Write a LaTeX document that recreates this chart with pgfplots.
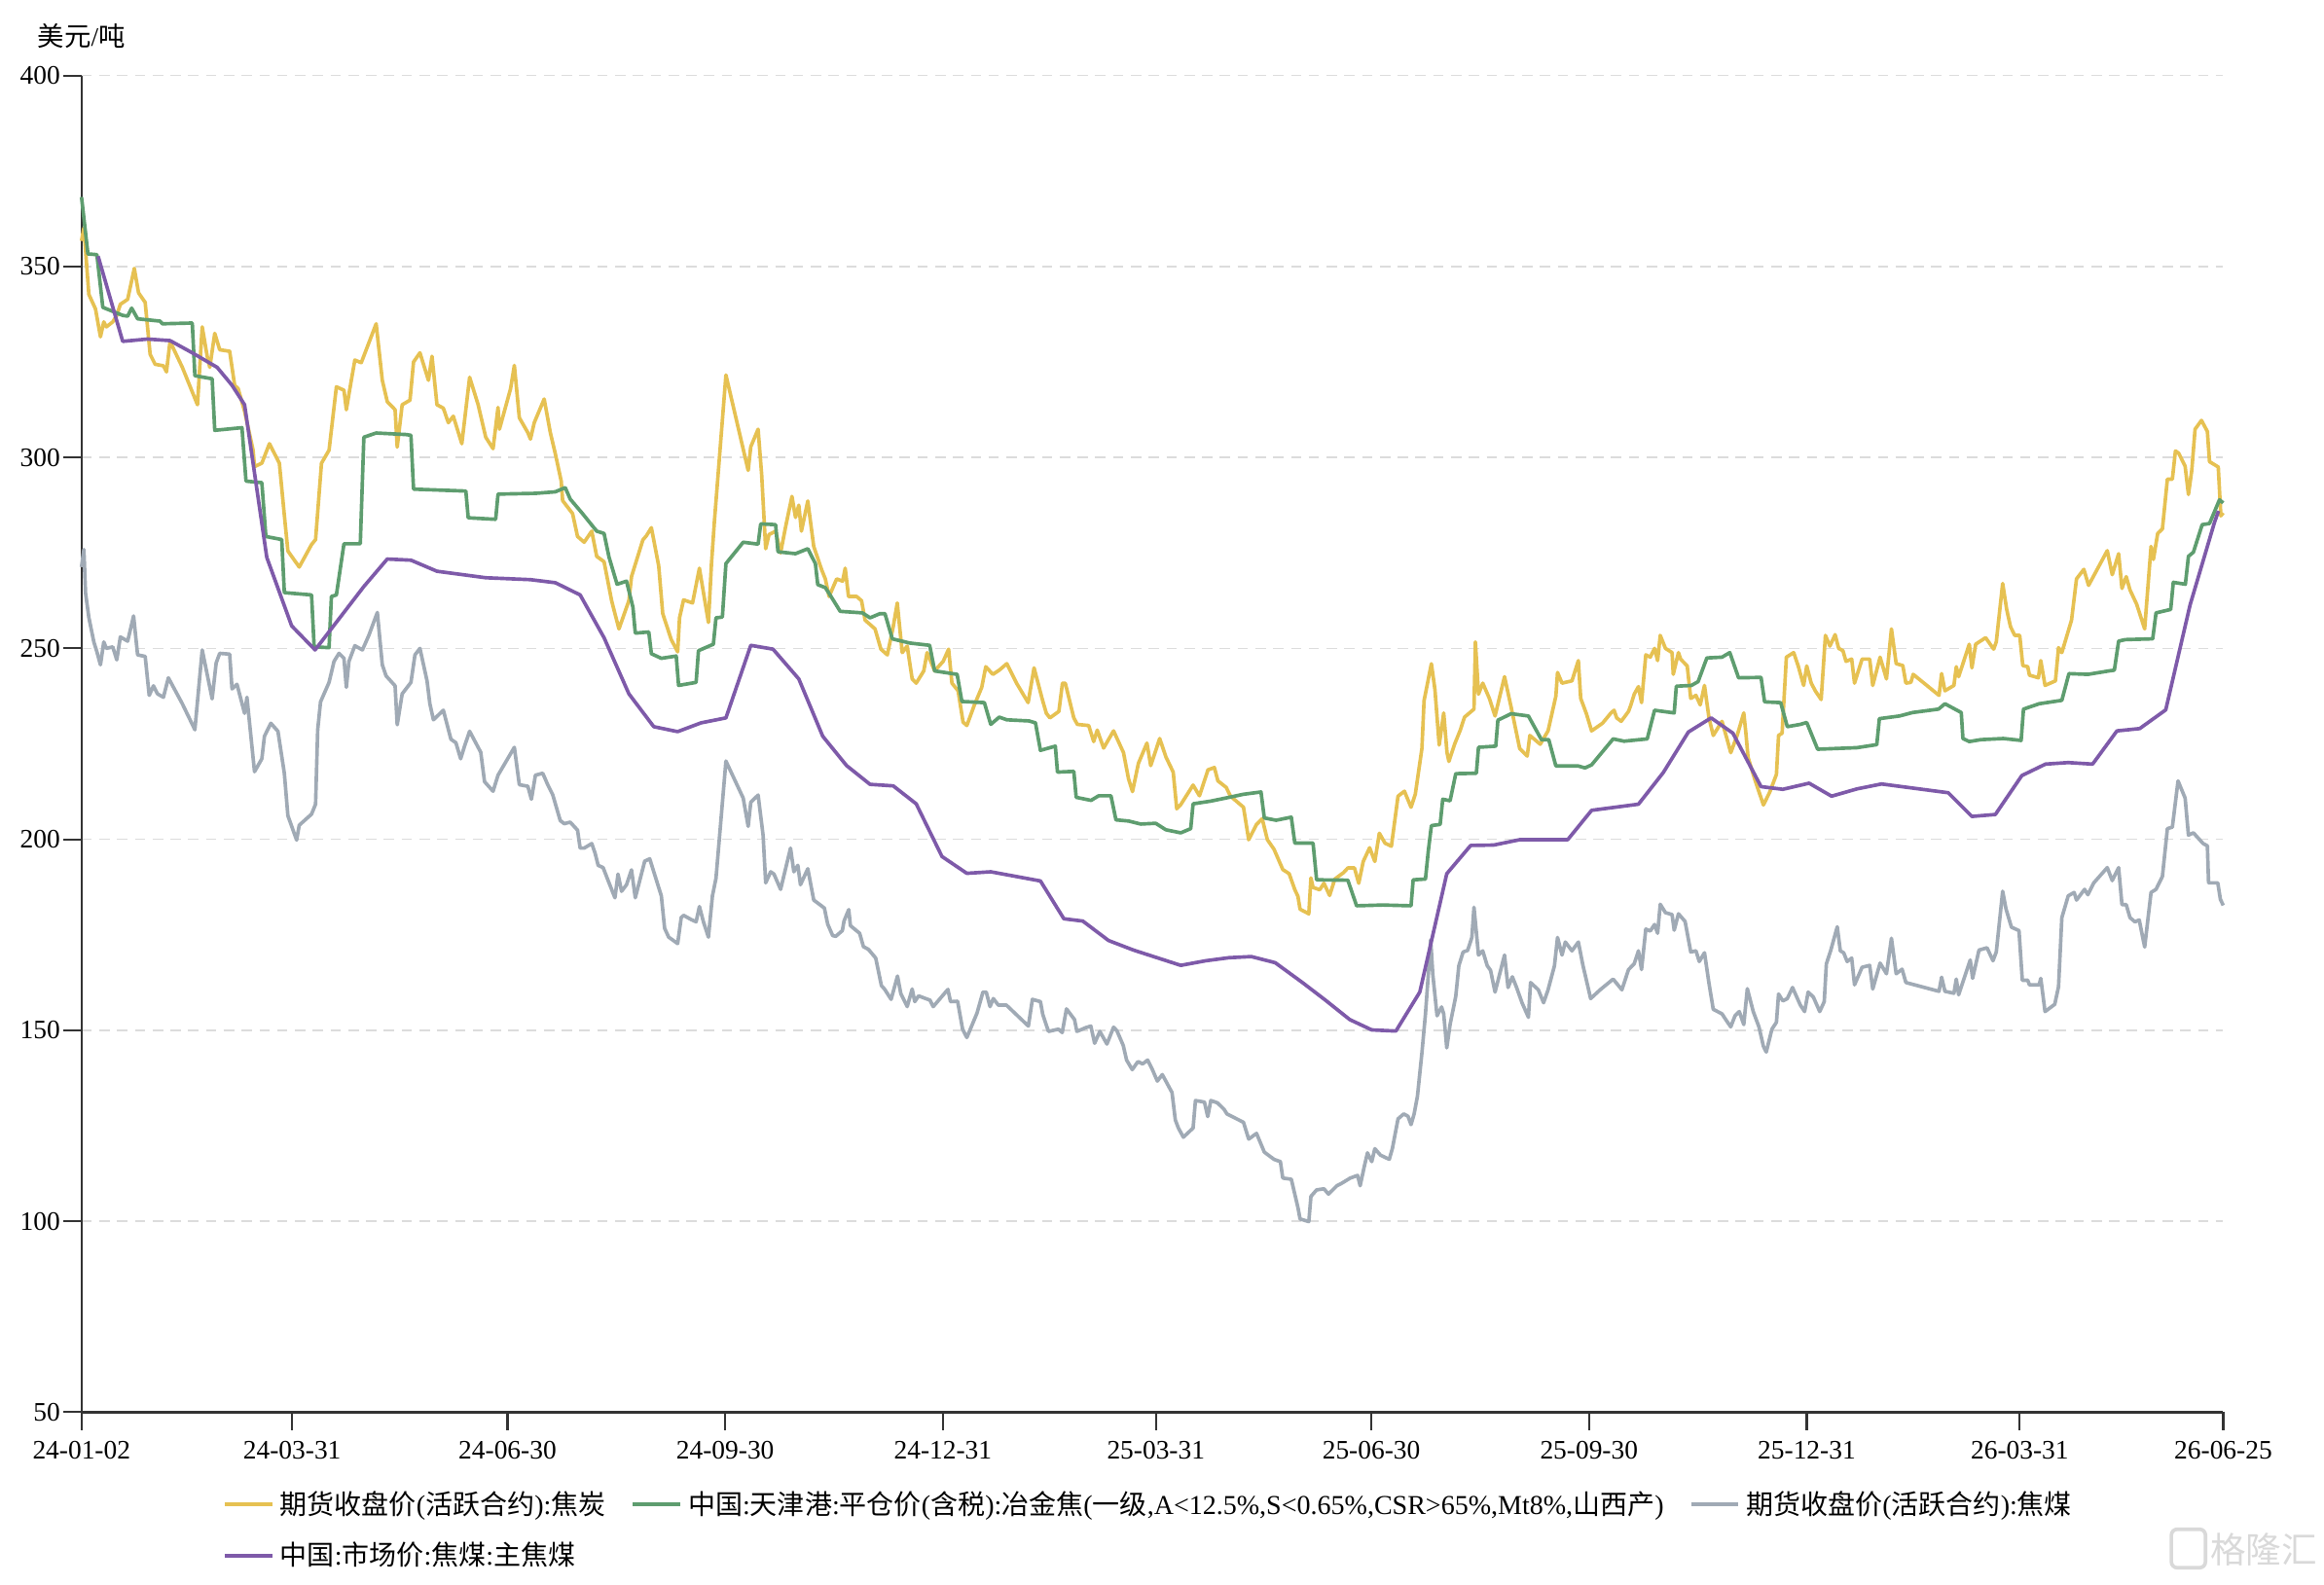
\documentclass[border=0pt]{standalone}
\usepackage{fontspec}
\setmainfont{Liberation Serif}
\newfontfamily\cjk{Noto Sans CJK SC}
\usepackage{pgfplots}
\pgfplotsset{compat=1.18}

\definecolor{cokefut}{HTML}{E6C152}
\definecolor{cokeport}{HTML}{5E9D6F}
\definecolor{coalfut}{HTML}{A0AAB5}
\definecolor{coalmkt}{HTML}{7E5AA9}
\definecolor{axisdark}{HTML}{333333}
\definecolor{gridgrey}{HTML}{DCDCDC}
\definecolor{markgrey}{HTML}{D9D9D9}

\begin{document}
\begin{tikzpicture}[x=1pt,y=1pt]
\path[use as bounding box] (0,0) rectangle (784,534.5);
% x = days since 2024-01-02
\begin{axis}[
  name=main,
  at={(27.5pt,58pt)}, anchor=south west,
  scale only axis, width=722.5pt, height=451pt,
  xmin=0, xmax=905, ymin=50, ymax=400,
  axis x line*=bottom, axis y line*=left,
  axis line style={axisdark, line width=0.8pt},
  tick style={axisdark, line width=0.7pt},
  tick align=outside, major tick length=6pt,
  xtick={0,89,180,272,364,454,545,637,729,819,905},
  xticklabels={24-01-02,24-03-31,24-06-30,24-09-30,24-12-31,25-03-31,25-06-30,25-09-30,25-12-31,26-03-31,26-06-25},
  ytick={50,100,150,200,250,300,350,400},
  ymajorgrids,
  major grid style={gridgrey, dash pattern=on 3.5pt off 2.5pt, line width=0.5pt},
  ticklabel style={font=\fontsize{9}{10}\selectfont, text=black},
  /pgf/number format/assume math mode=true,
  yticklabel style={inner sep=1pt},
  xticklabel style={inner sep=3.5pt},
  no markers,
  every axis plot/.append style={line width=1.2pt, line join=round},
  legend columns=3,
  legend cell align=left,
  legend style={at={(0.0657,-0.054)}, anchor=north west, draw=none, fill=none,
    inner sep=0pt, font=\fontsize{9.2}{10}\selectfont, row sep=4pt,
    /tikz/every even column/.append style={column sep=6.5pt}},
  legend image code/.code={\draw[#1, line width=1.3pt] (0pt,0pt) -- (16pt,0pt);},
  clip=false,
]

% 期货收盘价(活跃合约):焦炭
\addplot[cokefut] coordinates {
(0,356.7)(1.0,360.1)(3.1,342.7)(5.9,338.9)(8.0,331.6)(9.4,335.5)(10.5,334.2)(13.2,335.5)(14.9,337.2)(16.4,340.1)
(19.5,341.4)(22.3,349.5)(24.1,343.1)(26.9,340.6)(29.0,327.0)(31.1,324.4)(34.6,324.0)(35.9,322.4)(37.4,330.4)(42.6,323.6)
(49.0,313.8)(51.0,334.2)(53.1,326.5)(54.2,323.6)(56.3,332.5)(58.4,328.2)(62.6,327.8)(64.7,318.9)(66.2,318.0)(68.9,312.1)
(72.5,301.9)(73.1,297.6)(76.2,298.5)(79.4,303.6)(83.6,298.5)(85.7,284.9)(87.2,275.5)(92.0,271.3)(97.2,277.2)(98.9,278.5)
(101.4,298.5)(104.6,301.9)(107.7,318.5)(110.9,317.6)(111.9,312.5)(114.0,320.2)(115.5,325.5)(118.2,324.8)(124.5,335.0)(127.1,320.2)
(129.2,314.6)(132.5,312.5)(133.4,302.7)(135.5,313.8)(138.8,315.0)(140.3,325.0)(143.0,327.4)(146.6,320.2)(148.1,326.5)(150.2,313.8)
(152.9,312.9)(155.0,309.1)(157.1,310.8)(160.7,303.6)(164.0,321.0)(167.6,313.8)(170.8,305.3)(173.9,302.3)(176.0,313.1)(176.6,307.4)
(181.3,318.0)(182.9,324.1)(185.0,310.4)(188.6,306.5)(189.7,304.8)(191.3,309.1)(195.5,315.3)(198.1,306.5)(200.2,301.0)(202.7,293.8)
(203.3,288.7)(207.5,285.3)(209.6,279.3)(212.4,277.8)(215.6,280.7)(217.7,274.1)(220.8,272.7)(224.0,262.5)(225.4,259.1)(227.1,255.1)
(231.3,262.5)(232.4,268.8)(237.2,278.4)(238.7,279.5)(240.8,281.6)(243.9,271.6)(245.6,259.1)(249.2,252.3)(251.9,249.1)(252.7,258.0)
(254.4,262.7)(258.2,261.9)(261.1,271.0)(264.9,256.8)(266.2,272.2)(267.4,283.0)(272.3,321.6)(281.7,296.6)(282.8,302.8)(285.9,307.4)
(287.4,295.5)(289.1,276.1)(290.5,279.8)(293.3,280.7)(295.4,275.0)(297.5,281.8)(300.2,289.8)(301.7,284.3)(303.1,287.5)(304.2,280.7)
(306.9,288.6)(309.4,276.7)(312.8,270.5)(314.3,268.2)(315.9,263.6)(319.1,268.2)(321.6,267.6)(322.7,271.0)(324.1,263.6)(327.5,263.6)
(329.6,262.5)(331.1,257.4)(335.3,255.1)(337.8,249.8)(340.5,248.3)(343.0,255.7)(344.7,261.9)(346.8,248.9)(348.9,250.6)(351.0,242.0)
(352.7,240.9)(355.9,244.1)(357.3,248.9)(360.5,244.1)(364.1,246.6)(366.4,249.8)(367.8,240.9)(370.4,238.9)(372.5,230.7)(374.1,229.8)
(377.3,235.2)(380.4,239.8)(382.1,245.2)(385.1,243.2)(387.8,244.3)(391.0,246.0)(395.1,240.9)(400.0,235.8)(402.5,244.9)(406.1,236.4)
(407.7,233.0)(409.2,231.8)(413.0,233.5)(414.5,240.9)(415.7,240.9)(419.3,231.8)(420.8,230.1)(425.6,229.8)(427.7,225.6)(429.2,228.6)
(431.9,223.9)(436.1,228.4)(440.3,222.7)(442.4,215.9)(444.1,212.5)(446.6,219.9)(450.2,225.2)(451.8,219.3)(455.6,226.4)(458.2,221.6)
(461.3,217.6)(462.8,208.0)(464.5,209.1)(469.7,214.2)(472.4,211.4)(476.0,218.2)(478.7,218.8)(480.2,215.3)(483.7,213.6)(485.5,211.3)
(491.0,208.4)(493.2,199.9)(496.5,203.9)(498.9,205.4)(501.1,199.9)(503.9,197.4)(507.6,192.1)(510.3,191.0)(512.7,186.8)(514.0,185.1)
(514.9,181.7)(518.6,180.5)(519.5,189.9)(520.4,187.4)(523.2,186.8)(525.0,188.5)(527.4,185.3)(529.6,189.6)(533.3,191.3)(535.1,192.5)
(537.9,192.5)(539.7,188.5)(541.6,194.2)(544.3,197.8)(546.5,194.2)(548.4,201.6)(550.8,199.0)(553.5,198.2)(556.3,211.3)(559.0,212.6)
(561.8,208.4)(563.6,211.8)(566.4,223.8)(567.3,236.3)(570.4,246.0)(571.9,239.2)(573.7,224.7)(575.6,233.1)(577.0,222.7)(577.8,220.4)
(580.2,224.9)(582.6,228.6)(584.4,232.0)(588.4,234.1)(589.0,251.7)(590.3,238.0)(592.1,240.9)(594.9,236.9)(597.3,232.3)(601.3,242.6)
(604.1,234.6)(607.7,223.8)(610.9,221.8)(612.0,227.2)(616.4,224.9)(619.7,228.4)(623.0,237.5)(623.7,243.7)(625.6,240.9)(629.8,241.5)
(632.5,246.8)(633.5,236.9)(635.9,232.9)(638.1,228.4)(642.7,230.4)(646.3,233.1)(647.6,233.8)(648.7,231.8)(650.6,230.9)(653.7,233.5)
(654.6,235.0)(656.1,238.0)(657.9,240.0)(659.2,235.8)(661.0,248.3)(662.9,247.7)(664.7,250.0)(666.0,246.8)(667.1,253.4)(669.3,250.0)
(672.1,248.9)(672.6,243.2)(674.8,248.9)(675.7,247.2)(678.5,245.4)(680.0,236.9)(682.2,237.7)(684.0,235.2)(685.8,240.3)(687.7,231.8)
(689.5,227.2)(693.2,230.9)(695.4,226.1)(696.9,222.7)(699.6,227.2)(702.4,233.1)(703.3,227.8)(704.2,221.5)(707.0,215.8)(710.7,209.0)
(713.4,212.4)(716.2,217.0)(717.1,227.2)(718.6,227.8)(720.4,247.7)(723.5,248.9)(725.4,245.4)(727.7,240.3)(729.0,245.4)(730.9,240.9)
(732.7,238.8)(735.1,236.6)(736.9,253.4)(738.8,250.6)(741.0,253.6)(742.5,250.0)(744.3,249.4)(745.6,246.6)(748.0,247.2)(749.2,240.9)
(752.4,247.2)(755.6,247.2)(756.9,240.3)(760.0,247.7)(762.7,242.0)(764.8,255.1)(766.8,246.0)(769.6,245.5)(770.9,240.9)(773.0,241.1)
(774.0,243.2)(784.9,237.7)(786.0,243.4)(787.4,238.9)(791.2,240.3)(792.2,245.2)(793.2,242.6)(797.7,251.1)(798.8,244.9)(800.4,251.1)
(804.6,252.8)(808.0,249.8)(809.1,251.7)(811.8,267.0)(813.5,260.2)(815.1,255.7)(816.9,253.4)(819.0,253.4)(820.3,245.5)(822.4,245.2)
(823.1,243.0)(826.9,242.3)(827.9,246.8)(829.7,240.3)(834.1,241.5)(835.4,250.2)(836.8,248.9)(840.9,257.4)(843.0,268.2)(846.1,270.7)
(848.1,266.5)(856.0,275.6)(858.1,269.3)(860.8,274.8)(862.2,265.7)(864.0,268.8)(865.6,265.3)(868.4,261.6)(871.8,255.1)(874.5,276.7)
(875.5,273.3)(877.3,280.1)(879.3,281.3)(881.4,294.3)(883.5,294.3)(884.8,301.7)(886.2,301.1)(888.9,297.7)(890.3,290.3)(891.7,296.6)
(893.1,307.4)(895.8,309.7)(898.3,306.8)(899.2,298.9)(902.9,297.5)(904.0,284.7)(905,285.5)
};
\addlegendentry{{\cjk 期货收盘价}({\cjk 活跃合约}):{\cjk 焦炭}}

% 中国:天津港:平仓价(含税):冶金焦
\addplot[cokeport] coordinates {
(0,368.2)(2.7,353.3)(6.5,353.1)(9.0,339.3)(17.4,337.2)(19.5,337.0)(21.2,339.1)(23.7,336.3)(33.2,335.7)(34.2,335.0)
(46.8,335.2)(47.9,321.4)(55.2,320.6)(56.3,307.1)(67.8,307.8)(69.5,293.8)(76.2,293.4)(77.9,279.3)(84.6,278.5)(85.7,264.6)
(97.2,264.0)(98.3,250.4)(104.6,250.2)(105.6,263.6)(107.7,264.0)(110.9,277.4)(117.8,277.4)(119.3,305.3)(124.5,306.4)(137.1,306.0)
(139.2,305.8)(140.3,291.7)(162.4,291.2)(163.4,284.2)(175.0,283.8)(176.0,290.4)(191.8,290.6)(200.2,291.0)(204.4,292.1)(206.5,289.1)
(211.7,285.3)(217.7,280.7)(220.8,280.1)(222.9,273.9)(226.3,266.8)(230.3,267.6)(233.0,260.8)(234.0,254.0)(239.7,254.3)(240.8,248.6)
(245.0,247.4)(251.3,248.0)(252.3,240.3)(259.7,241.1)(260.7,249.4)(267.0,251.1)(268.1,258.0)(270.8,258.2)(272.3,272.2)(279.6,277.8)
(285.9,277.3)(287.0,282.6)(293.3,282.4)(294.3,275.3)(301.7,274.8)(306.9,276.1)(310.1,272.2)(311.1,266.7)(314.3,265.9)(316.4,263.9)
(320.6,259.7)(330.0,259.3)(333.2,258.0)(337.4,259.1)(339.5,259.1)(342.6,252.5)(350.0,251.4)(358.4,250.8)(360.5,244.1)(370.0,243.2)
(372.0,236.1)(381.5,235.8)(384.2,230.1)(387.8,232.0)(391.0,231.3)(400.4,231.0)(403.1,230.5)(405.2,223.3)(411.5,224.4)(412.4,217.6)
(419.3,217.8)(420.3,211.0)(426.6,210.2)(429.8,211.4)(435.0,211.4)(437.1,205.1)(442.4,204.8)(447.6,204.0)(453.9,204.2)(458.2,202.5)
(464.5,201.7)(468.7,202.8)(469.7,209.3)(477.1,210.0)(483.4,210.8)(491.0,211.8)(498.4,212.4)(499.8,205.6)(504.8,205.0)(511.2,205.8)
(512.7,199.0)(520.4,199.0)(521.9,189.4)(535.1,189.3)(538.8,182.6)(549.8,182.8)(561.8,182.6)(562.7,189.4)(567.9,189.6)(569.1,197.0)
(570.4,203.6)(574.1,203.9)(575.2,210.5)(578.3,210.1)(580.7,217.2)(589.4,217.3)(590.3,224.1)(597.6,224.4)(598.5,231.2)(604.1,232.9)
(611.4,232.3)(616.9,226.1)(620.0,226.1)(623.0,219.2)(632.5,219.2)(635.3,218.7)(638.1,219.5)(647.2,226.3)(651.8,225.7)(661.6,226.3)
(664.7,233.8)(673.0,233.1)(673.9,240.1)(680.3,240.3)(683.1,241.3)(686.8,247.5)(693.2,247.7)(696.5,248.9)(700.2,242.3)(709.7,242.4)
(711.2,236.0)(718.0,235.8)(720.8,229.5)(726.3,230.1)(729.0,230.6)(733.6,223.6)(750.2,224.0)(758.6,224.8)(759.7,231.6)(768.2,232.3)
(773.7,233.2)(784.7,234.1)(787.4,235.5)(794.3,233.2)(795.0,226.4)(797.7,225.6)(802.5,226.1)(812.1,226.4)(819.6,225.9)(820.6,234.1)
(827.2,235.5)(836.8,236.4)(839.8,243.4)(847.8,243.2)(856.7,244.1)(859.0,244.3)(860.8,251.9)(863.6,252.3)(875.2,252.5)(876.6,259.3)
(882.8,260.2)(883.9,267.3)(889.0,266.8)(890.3,274.1)(892.4,275.2)(896.1,282.4)(899.2,282.7)(903.4,288.9)(905,288.1)
};
\addlegendentry{{\cjk 中国}:{\cjk 天津港}:{\cjk 平仓价}({\cjk 含税}):{\cjk 冶金焦}({\cjk 一级},A<12.5\%,S<0.65\%,CSR>65\%,Mt8\%,{\cjk 山西产})}

% 期货收盘价(活跃合约):焦煤
\addplot[coalfut] coordinates {
(0,271.3)(1.0,275.9)(1.7,264.5)(3.1,258.1)(5.2,251.7)(6.5,249.1)(8.0,245.7)(9.4,251.7)(10.5,250.0)(13.2,250.4)
(14.9,247.0)(16.4,253.0)(19.5,251.9)(22.0,258.5)(23.7,248.3)(26.9,247.9)(28.6,237.7)(30.4,240.2)(32.1,238.1)(34.6,237.2)
(36.7,242.3)(42.6,235.5)(47.9,228.7)(51.0,249.6)(55.2,236.8)(56.9,246.2)(58.4,248.7)(62.6,248.5)(63.6,239.4)(65.7,240.6)
(68.9,233.0)(69.9,237.2)(73.1,217.7)(76.2,221.1)(77.3,227.0)(80.0,230.4)(83.0,228.3)(85.7,217.3)(87.2,206.2)(90.9,199.8)
(92.0,203.7)(97.2,206.6)(98.9,209.2)(99.8,228.7)(101.0,236.0)(104.6,241.1)(106.7,246.6)(108.8,248.7)(110.9,247.4)(111.9,239.8)
(113.0,246.6)(115.5,250.7)(118.7,249.6)(121.4,253.4)(125.0,259.4)(127.1,245.7)(128.7,242.8)(132.5,240.2)(133.4,230.0)(135.5,238.1)
(139.2,241.1)(140.9,248.3)(143.0,250.0)(146.0,241.5)(147.2,235.5)(148.7,231.3)(152.9,233.8)(156.1,226.2)(158.2,225.3)(160.2,221.1)
(161.9,224.5)(164.0,228.3)(168.7,222.8)(170.3,215.1)(173.9,212.6)(176.0,216.8)(182.9,224.1)(185.0,214.3)(188.6,213.9)(190.1,210.5)
(191.8,216.8)(194.9,217.3)(197.0,214.3)(199.1,211.7)(202.3,204.9)(204.0,204.1)(206.5,204.5)(209.6,202.4)(210.7,197.7)(212.4,197.7)
(215.6,198.9)(217.0,196.4)(218.3,193.2)(220.4,192.6)(222.9,188.6)(225.4,184.7)(226.7,190.9)(228.2,186.4)(230.3,188.1)(232.4,192.0)
(234.0,184.7)(238.0,194.3)(240.1,194.9)(245.0,185.2)(246.4,176.7)(248.1,174.4)(251.9,172.7)(253.4,179.5)(254.4,180.1)(257.6,179.0)
(259.7,178.4)(261.1,182.4)(262.8,178.4)(264.9,174.4)(266.6,185.2)(268.1,189.8)(272.3,220.5)(279.6,210.8)(281.7,203.4)(282.8,209.7)
(285.9,211.6)(288.0,201.1)(289.1,188.6)(291.2,191.5)(292.6,190.9)(295.4,186.9)(299.6,197.7)(301.0,191.5)(302.7,193.2)(303.8,188.1)
(306.9,192.3)(309.4,184.1)(313.9,182.0)(315.3,177.8)(317.4,174.8)(318.7,174.6)(321.5,176.1)(322.2,178.6)(324.2,181.6)(324.9,177.4)
(328.8,175.4)(330.4,171.9)(332.5,171.2)(335.6,168.9)(338.0,161.7)(339.3,160.8)(342.1,158.1)(344.8,164.2)(346.2,159.6)(348.9,156.2)
(351.0,160.8)(352.1,157.5)(353.7,159.0)(358.5,157.9)(359.9,156.2)(366.1,160.7)(367.2,157.5)(370.2,157.6)(372.3,150.3)(374.1,148.1)
(378.4,154.5)(380.9,160.0)(382.3,160.0)(383.9,156.2)(385.3,158.3)(387.4,156.6)(390.8,156.6)(400.1,151.1)(401.8,158.1)(405.2,157.5)
(406.2,154.1)(408.6,149.7)(412.8,150.3)(414.4,149.4)(416.2,155.6)(419.6,152.8)(420.6,149.7)(424.4,150.7)(426.5,151.1)(428.1,146.6)
(430.3,149.7)(433.3,146.4)(436.1,150.8)(437.5,149.9)(440.2,146.0)(441.6,142.2)(444.0,139.7)(446.4,141.8)(448.4,141.2)(450.5,142.2)
(452.5,139.7)(454.6,136.7)(456.7,138.4)(460.8,133.7)(462.2,126.5)(463.5,124.4)(465.6,122.0)(469.7,124.4)(470.7,131.6)(474.5,131.2)
(475.9,127.4)(477.2,131.6)(480.0,131.0)(482.8,129.3)(484.0,128.1)(491.0,125.9)(493.2,121.5)(496.5,123.0)(499.8,118.1)(503.9,116.2)
(506.6,115.6)(507.6,111.3)(511.2,111.0)(514.0,103.6)(514.9,100.6)(518.6,99.9)(519.5,106.5)(521.9,108.2)(525.0,108.5)(526.9,107.1)
(530.5,109.3)(532.4,109.9)(536.1,111.3)(539.2,112.0)(540.3,109.3)(542.1,114.5)(543.4,117.9)(545.2,115.6)(546.5,119.0)(548.9,117.3)
(552.6,116.2)(553.9,119.0)(556.3,126.8)(558.7,128.1)(560.5,127.5)(561.8,125.3)(563.1,128.1)(564.5,132.7)(566.4,144.1)(567.9,154.3)
(569.1,164.6)(570.1,173.7)(571.0,164.6)(572.8,153.8)(574.7,156.1)(575.6,154.3)(576.9,145.4)(578.3,151.5)(580.7,158.9)(582.0,166.9)
(583.8,170.5)(585.7,170.9)(587.5,174.3)(588.4,182.2)(590.3,169.7)(592.1,170.8)(594.0,166.9)(595.4,165.7)(597.3,160.0)(598.5,162.9)
(601.3,169.7)(602.8,161.2)(604.6,164.0)(606.4,161.2)(608.7,157.2)(611.4,153.4)(612.3,162.5)(615.6,160.6)(617.8,157.2)(619.7,160.6)
(622.4,166.9)(623.7,174.3)(625.6,169.7)(627.0,173.1)(629.8,170.8)(632.5,173.1)(634.4,167.1)(637.7,158.3)(641.7,160.6)(647.2,163.4)
(650.9,160.6)(653.7,165.9)(656.1,167.4)(657.9,170.8)(659.2,165.9)(661.0,176.5)(662.9,176.0)(664.7,177.7)(666.0,175.4)(667.1,183.0)
(669.3,180.8)(672.1,180.3)(673.0,176.2)(674.8,180.5)(677.6,178.5)(680.0,170.5)(682.2,170.8)(683.6,168.0)(685.8,170.3)(687.7,162.3)
(689.5,155.5)(693.2,154.3)(695.0,152.6)(696.9,150.9)(698.7,153.8)(700.5,154.9)(702.4,151.5)(703.9,160.9)(706.4,154.9)(708.8,150.9)
(710.7,145.8)(711.9,144.3)(714.3,150.3)(716.2,152.1)(717.1,159.5)(718.9,157.7)(720.8,158.3)(723.0,161.2)(726.3,156.6)(728.1,154.9)
(729.6,160.0)(731.8,158.7)(734.5,154.9)(736.4,157.5)(737.3,167.4)(739.1,170.8)(741.9,177.1)(743.2,170.8)(744.6,170.3)(746.1,168.0)
(748.0,168.9)(749.2,161.9)(752.4,166.5)(755.6,167.0)(756.9,160.8)(760.0,167.6)(762.7,164.8)(764.8,174.1)(766.8,164.8)(769.3,166.0)
(770.9,162.5)(784.9,160.2)(786.0,163.9)(787.4,160.2)(791.2,159.7)(792.2,163.4)(793.2,159.3)(798.1,168.4)(799.1,163.6)(801.8,171.0)
(805.2,171.6)(807.7,168.2)(809.1,170.5)(811.8,186.4)(813.2,181.8)(815.5,177.0)(818.7,176.1)(820.1,163.1)(822.4,163.1)(823.1,161.9)
(827.2,161.9)(827.9,163.6)(829.7,154.9)(833.8,156.8)(835.4,161.4)(836.8,179.5)(839.5,185.2)(842.0,186.1)(843.0,184.1)(846.4,186.9)
(847.8,185.5)(850.3,188.6)(856.0,192.6)(858.1,189.2)(860.8,192.6)(862.2,182.9)(864.0,182.9)(865.6,179.5)(867.7,178.4)(869.5,178.9)
(871.8,171.8)(874.5,186.1)(876.6,186.9)(879.3,190.3)(881.4,202.8)(883.5,203.2)(885.9,215.3)(888.9,210.8)(890.3,201.1)(892.4,201.7)
(896.5,198.9)(898.3,198.3)(898.8,188.6)(902.7,188.6)(903.8,184.3)(905,182.7)
};
\addlegendentry{{\cjk 期货收盘价}({\cjk 活跃合约}):{\cjk 焦煤}}

% 中国:市场价:焦煤:主焦煤
\addplot[coalmkt] coordinates {
(7,352.7)(17.4,330.4)(27.9,331.0)(37.4,330.6)(46.8,327.4)(57.3,323.6)(63.6,318.9)(68.9,313.8)(78.3,273.8)(88.8,255.9)
(98.7,249.6)(119.3,266.2)(129.2,273.4)(139.2,273.1)(150.2,270.2)(170.8,268.5)(189.7,268.0)(200.2,267.2)(210.7,264.0)(220.8,252.8)
(231.3,238.1)(241.8,229.5)(251.9,228.2)(261.8,230.5)(272.3,231.8)(282.8,250.8)(292.2,249.8)(303.1,242.0)(313.2,227.0)(323.3,219.3)
(333.2,214.4)(343.0,214.0)(352.7,209.3)(363.6,195.5)(374.1,191.1)(384.2,191.5)(405.2,189.1)(415.1,179.2)(423.1,178.6)(434.0,173.5)
(444.5,171.0)(455.0,168.9)(464.5,167.0)(475.0,168.2)(484.8,169.0)(494.3,169.3)(504.4,167.7)(515.9,162.5)(525.4,158.0)(535.9,152.8)
(545.2,150.1)(555.4,149.8)(565.5,160.0)(576.9,191.0)(587.0,198.4)(596.7,198.5)(607.7,199.9)(628.0,199.9)(638.1,207.6)(657.9,209.2)
(668.4,217.5)(679.0,228.1)(688.6,231.8)(697.8,227.8)(709.7,213.8)(718.9,213.1)(730.0,214.7)(739.5,211.3)(750.2,213.2)(760.6,214.5)
(788.8,212.2)(798.8,206.0)(808.7,206.5)(819.9,216.7)(829.9,219.7)(839.5,220.1)(849.8,219.7)(860.1,228.4)(869.7,229.0)(880.7,233.9)
(891.0,261.4)(901.3,283.0)(903,286.0)
};
\addlegendentry{{\cjk 中国}:{\cjk 市场价}:{\cjk 焦煤}:{\cjk 主焦煤}}
\end{axis}

% unit label above the value axis
\node[anchor=west, inner sep=0pt, font=\fontsize{9}{10}\selectfont] at (12.5,522.5) {{\cjk 美元}/{\cjk 吨}};

% source mark, bottom right
\draw[markgrey, line width=1.2pt, rounded corners=2pt] (732.5,5.5) rectangle (744,18.5);
\node[anchor=west, inner sep=0pt, text=markgrey, font=\fontsize{12}{12}\selectfont] at (745.5,11.8) {\cjk 格隆汇};
\end{tikzpicture}
\end{document}
